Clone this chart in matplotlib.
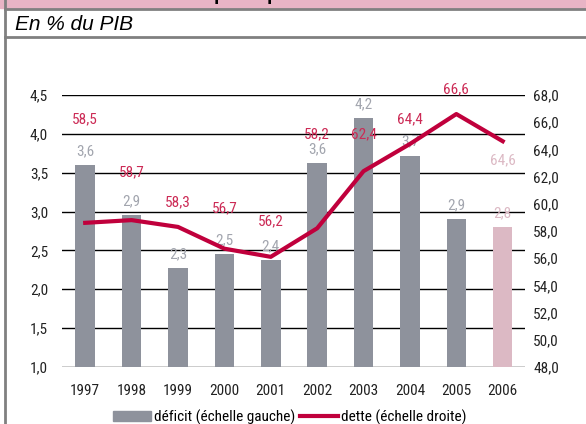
import matplotlib
matplotlib.use("Agg")
import matplotlib.pyplot as plt
from matplotlib.ticker import FuncFormatter
from matplotlib.patches import Patch, Rectangle
from matplotlib.lines import Line2D

years = ["1997", "1998", "1999", "2000", "2001", "2002", "2003", "2004", "2005", "2006"]
deficit = [3.6, 2.95, 2.27, 2.45, 2.38, 3.62, 4.2, 3.72, 2.9, 2.8]
deficit_labels = ["3,6", "2,9", "2,3", "2,5", "2,4", "3,6", "4,2", "3,7", "2,9", "2,8"]
dette = [58.6, 58.8, 58.3, 56.7, 56.1, 58.2, 62.4, 64.4, 66.6, 64.6]
dette_labels = ["58,5", "58,7", "58,3", "56,7", "56,2", "58,2", "62,4", "64,4", "66,6", "64,6"]
# where the debt labels sit (right axis units)
dette_label_y = [66.2, 62.3, 60.1, 59.7, 58.7, 65.1, 65.1, 66.2, 68.4, 63.2]

narrow = ["Roboto Condensed", "DejaVu Sans"]
plt.rcParams["font.family"] = narrow

gray = "#8e929c"
pink = "#dcb9c4"
red = "#c0003c"
lab_red = "#cc2a55"
lab_gray = "#a2a5ae"
fs = 11

fig = plt.figure(figsize=(5.86, 4.24), dpi=100)

# frame: pink header band, rules and left border
fig.patches.append(Rectangle((0, 1 - 7.5 / 424), 1, 7.5 / 424, transform=fig.transFigure,
                             color="#e8b4c5", zorder=0))
fig.add_artist(Line2D([5 / 586, 1], [1 - 8.5 / 424] * 2, color="#808080", lw=2))
fig.add_artist(Line2D([5 / 586, 1], [1 - 36.5 / 424] * 2, color="#808080", lw=2))
fig.add_artist(Line2D([5 / 586] * 2, [0, 1], color="#808080", lw=2))
fig.text(290 / 586, 1 - 0.5 / 424, "Finances publiques : déficit et dette", ha="center",
         va="baseline", fontsize=14, fontweight="bold", family="Liberation Sans")
fig.text(15 / 586, 1 - 25 / 424, "En % du PIB", ha="left", va="center", fontsize=15,
         style="italic", family="Liberation Sans")

ax = fig.add_axes([62 / 586, 1 - 367 / 424, (525 - 62) / 586, (367 - 95) / 424])
x = list(range(len(years)))
colors = [gray] * 9 + [pink]
ax.bar(x, deficit, width=0.42, color=colors, zorder=2, bottom=0)
ax.set_ylim(1.0, 4.5)
ax.set_xlim(-0.5, 9.48)
ax.set_yticks([1.0, 1.5, 2.0, 2.5, 3.0, 3.5, 4.0, 4.5])
ax.yaxis.set_major_formatter(FuncFormatter(lambda v, p: f"{v:.1f}".replace(".", ",")))
ax.set_xticks(x)
ax.set_xticklabels(years)
ax.grid(axis="y", color="black", lw=1, zorder=1)
ax.tick_params(length=0, labelsize=fs, colors="#222222", pad=10)
ax.tick_params(axis="x", pad=12)
for s in ax.spines.values():
    s.set_visible(False)

for i, (v, t) in enumerate(zip(deficit, deficit_labels)):
    c = pink if i == 9 else lab_gray
    ax.annotate(t, (i, v), xytext=(0, 5), textcoords="offset points", ha="center",
                va="bottom", color=c, fontsize=fs, zorder=4)

ax2 = ax.twinx()
ax2.plot(x, dette, color=red, lw=3, zorder=3)
ax2.set_ylim(48, 68)
ax2.set_yticks([48, 50, 52, 54, 56, 58, 60, 62, 64, 66, 68])
ax2.yaxis.set_major_formatter(FuncFormatter(lambda v, p: f"{v:.1f}".replace(".", ",")))
ax2.tick_params(length=0, labelsize=fs, colors="#222222", pad=6)
for s in ax2.spines.values():
    s.set_visible(False)
for i, (ly, t) in enumerate(zip(dette_label_y, dette_labels)):
    c = pink if i == 9 else lab_red
    ax2.text(i, ly, t, ha="center", va="center", color=c, fontsize=fs, zorder=4)

handles = [Patch(color=gray, label="déficit (échelle gauche)"),
           Line2D([], [], color=red, lw=3, label="dette (échelle droite)")]
fig.legend(handles=handles, loc="center", bbox_to_anchor=(290 / 586, 1 - 417 / 424), ncol=2,
           frameon=False, fontsize=fs, handlelength=2.5, handletextpad=0.2,
           columnspacing=0.3, borderpad=0)

fig.savefig("out.png", dpi=100)
